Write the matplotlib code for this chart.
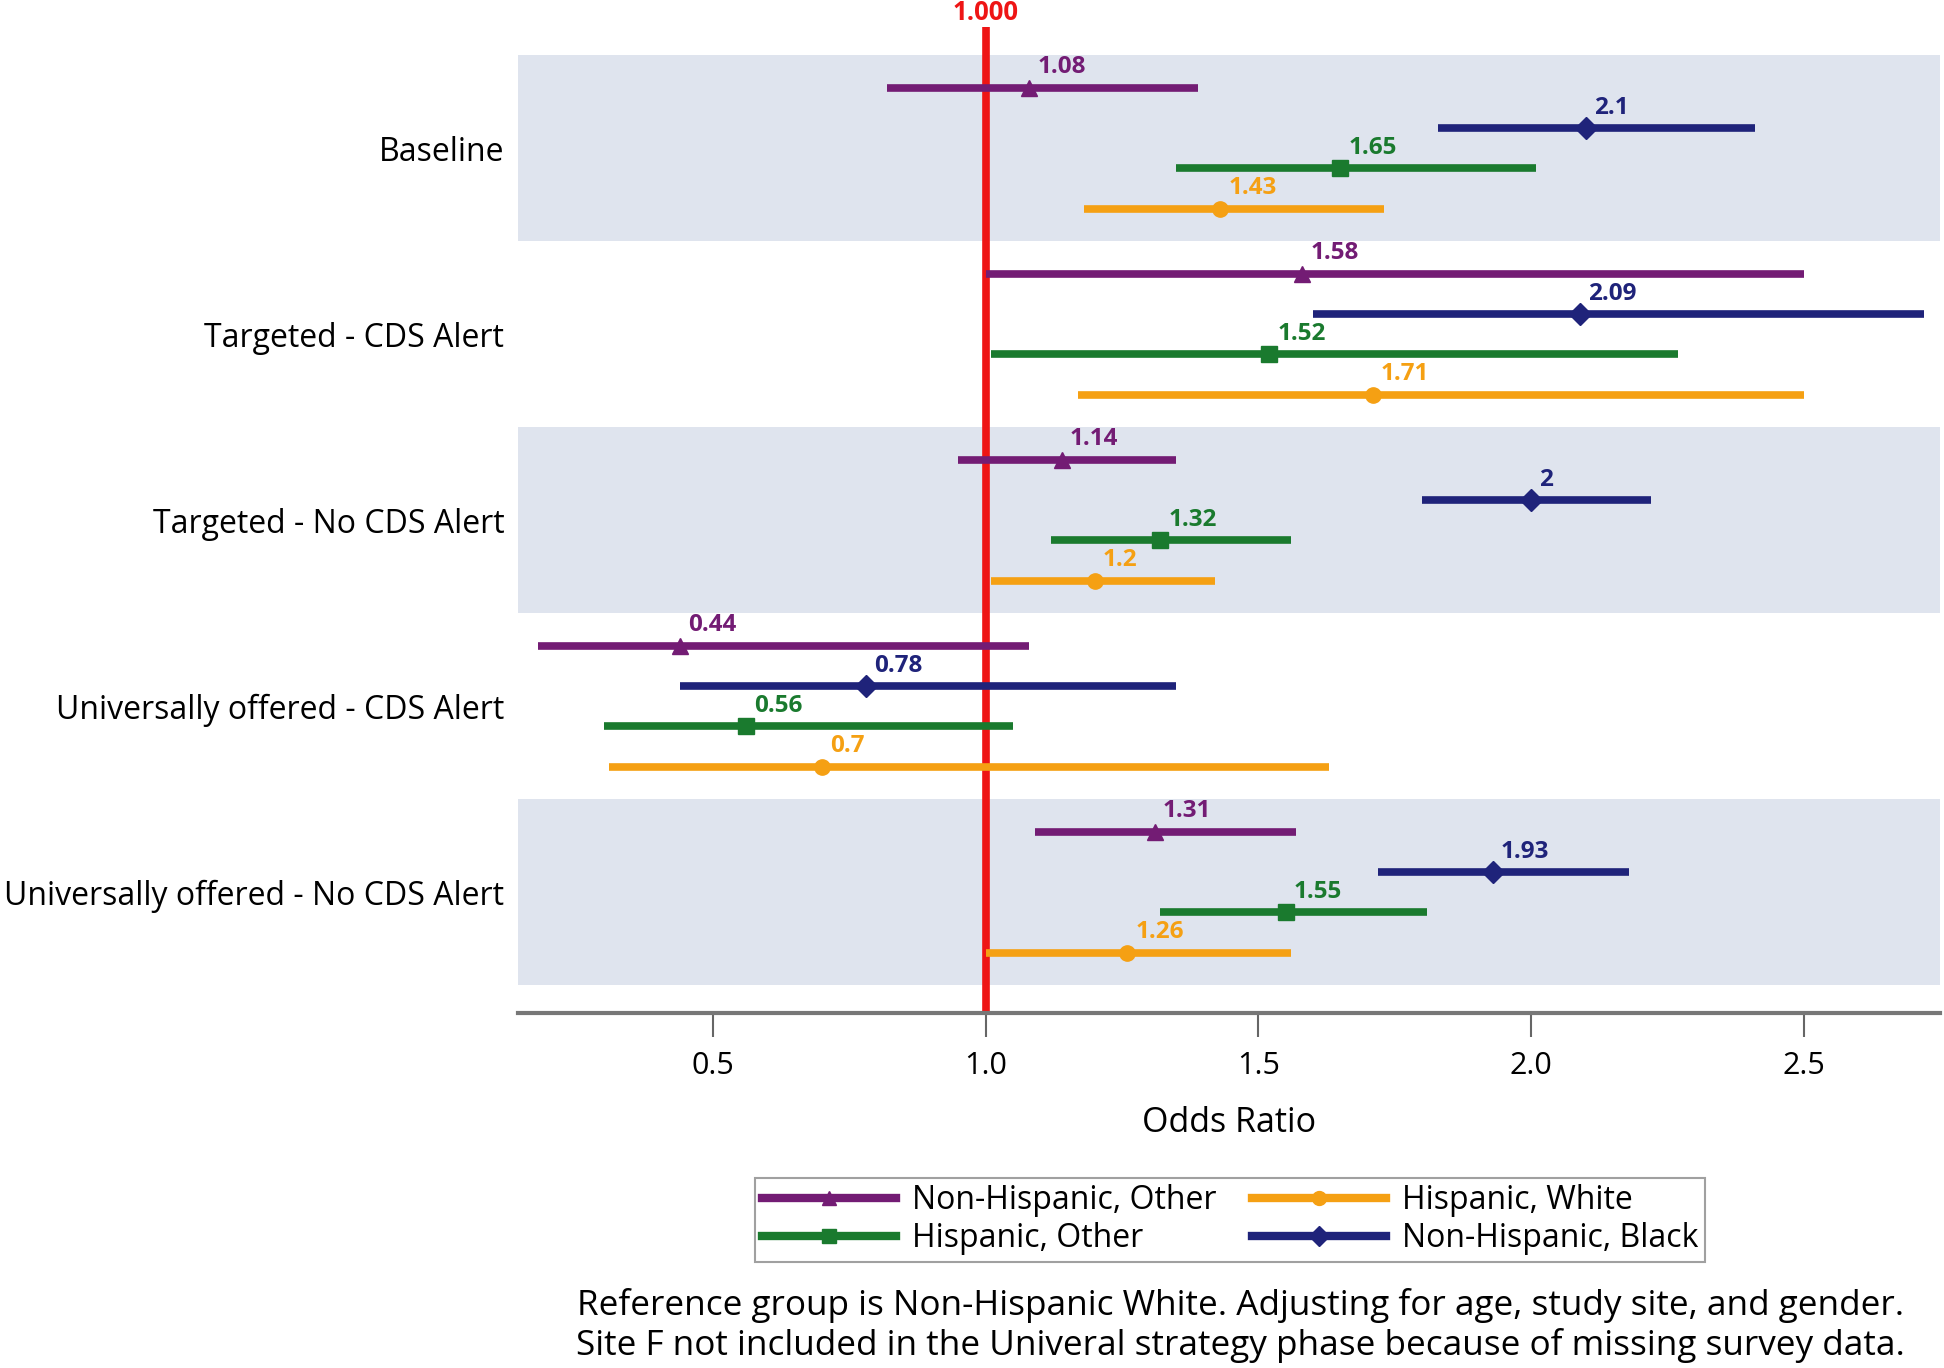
import matplotlib
matplotlib.use("Agg")
import matplotlib.pyplot as plt
from matplotlib.lines import Line2D

# categories (top to bottom)
categories = ['Baseline', 'Targeted - CDS Alert', 'Targeted - No CDS Alert',
              'Universally offered - CDS Alert', 'Universally offered - No CDS Alert']

# series, drawn top to bottom inside each category
series = ['Non-Hispanic, Other', 'Non-Hispanic, Black', 'Hispanic, Other', 'Hispanic, White']

# odds ratios and confidence limits per series (one value per category)
nh_other_or = [1.08, 1.58, 1.14, 0.44, 1.31]
nh_other_lo = [0.82, 1.00, 0.95, 0.18, 1.09]
nh_other_hi = [1.39, 2.50, 1.35, 1.08, 1.57]

nh_black_or = [2.1, 2.09, 2, 0.78, 1.93]
nh_black_lo = [1.83, 1.60, 1.80, 0.44, 1.72]
nh_black_hi = [2.41, 2.72, 2.22, 1.35, 2.18]

h_other_or = [1.65, 1.52, 1.32, 0.56, 1.55]
h_other_lo = [1.35, 1.01, 1.12, 0.30, 1.32]
h_other_hi = [2.01, 2.27, 1.56, 1.05, 1.81]

h_white_or = [1.43, 1.71, 1.2, 0.7, 1.26]
h_white_lo = [1.18, 1.17, 1.01, 0.31, 1.00]
h_white_hi = [1.73, 2.50, 1.42, 1.63, 1.56]

ors = [nh_other_or, nh_black_or, h_other_or, h_white_or]
los = [nh_other_lo, nh_black_lo, h_other_lo, h_white_lo]
his = [nh_other_hi, nh_black_hi, h_other_hi, h_white_hi]

colors = ['#731c74', '#1f237a', '#1a7a2e', '#f5a013']
markers = ['^', 'D', 's', 'o']
offsets = [-0.325, -0.108, 0.108, 0.325]

plt.rcParams['font.family'] = ['Open Sans', 'DejaVu Sans']

fig = plt.figure(figsize=(19.44, 13.68), dpi=100)
ax = fig.add_axes([0.2665, 0.2595, 0.7315, 0.7205])

# shaded bands behind alternating categories
for i in range(len(categories)):
    if i % 2 == 0:
        ax.axhspan(i - 0.5, i + 0.5, color='#dfe4ee', zorder=0, lw=0)

ax.axvline(1.0, color='#ee1515', lw=5.5, zorder=2)
ax.text(1.0, -0.66, '1.000', color='#ee1515', fontsize=18.5, fontweight='bold',
        ha='center', va='bottom')

for s in range(len(series)):
    for i in range(len(categories)):
        y = i + offsets[s]
        ax.plot([los[s][i], his[s][i]], [y, y], color=colors[s], lw=5.5, zorder=3,
                solid_capstyle='butt')
        ax.plot(ors[s][i], y, marker=markers[s], color=colors[s], ms=11, zorder=4)
        ax.text(ors[s][i] + 0.015, y - 0.045, f'{ors[s][i]:g}', color=colors[s],
                fontsize=17.5, fontweight='bold', ha='left', va='bottom', zorder=5)

ax.set_xlim(0.143, 2.75)
ax.set_ylim(len(categories) - 1 + 0.65, -0.65)
ax.set_yticks(range(len(categories)))
ax.set_yticklabels(categories, fontsize=23)
ax.tick_params(axis='y', length=0, pad=10)
ax.set_xticks([0.5, 1.0, 1.5, 2.0, 2.5])
ax.set_xticklabels(['0.5', '1.0', '1.5', '2.0', '2.5'], fontsize=22)
ax.tick_params(axis='x', length=17, width=1.5, color='#666666', pad=10)
ax.set_xlabel('Odds Ratio', fontsize=24.5, labelpad=18)

for side in ['left', 'top', 'right']:
    ax.spines[side].set_visible(False)
ax.spines['bottom'].set_color('#777777')
ax.spines['bottom'].set_linewidth(3)

handles = [Line2D([], [], color=colors[0], lw=6, marker=markers[0], ms=10),
           Line2D([], [], color=colors[2], lw=6, marker=markers[2], ms=10),
           Line2D([], [], color=colors[3], lw=6, marker=markers[3], ms=10),
           Line2D([], [], color=colors[1], lw=6, marker=markers[1], ms=10)]
labels = [series[0], series[2], series[3], series[1]]
leg = fig.legend(handles, labels, loc='upper center', bbox_to_anchor=(0.6327, 0.1505),
                 ncol=2, fontsize=23, handlelength=4.2, frameon=True, fancybox=False,
                 borderpad=0.2, labelspacing=0.15, columnspacing=1.1, handletextpad=0.5)
leg.get_frame().set_edgecolor('#888888')
leg.get_frame().set_linewidth(1.5)

fig.text(0.638, 0.031,
         'Reference group is Non-Hispanic White. Adjusting for age, study site, and gender.\n'
         'Site F not included in the Univeral strategy phase because of missing survey data.',
         ha='center', va='center', fontsize=25.3, linespacing=1.2)

fig.savefig('out.png', dpi=100)
